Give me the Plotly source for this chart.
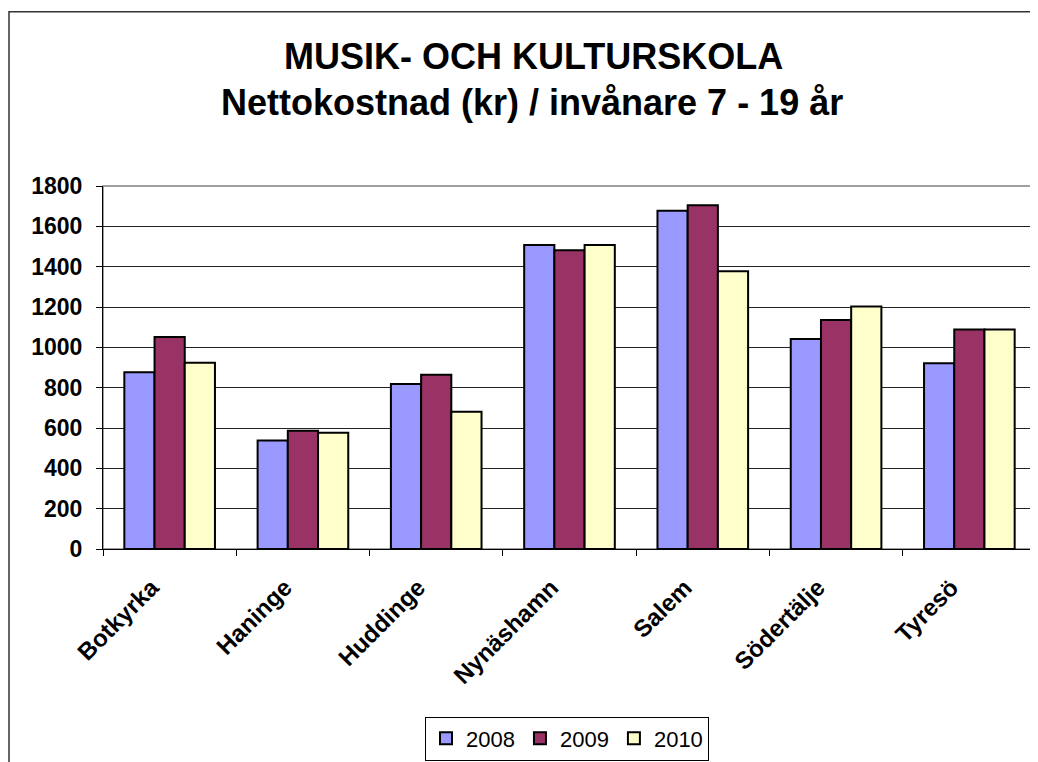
import plotly.graph_objects as go

categories = ["Botkyrka", "Haninge", "Huddinge", "Nynäshamn", "Salem", "Södertälje", "Tyresö"]
years = ["2008", "2009", "2010"]
values_2008 = [876, 538, 818, 1507, 1677, 1041, 921]
values_2009 = [1051, 586, 864, 1481, 1705, 1135, 1089]
values_2010 = [923, 576, 680, 1507, 1377, 1203, 1089]
colors = ["#9999FF", "#993366", "#FFFFCC"]
y_ticks = [0, 200, 400, 600, 800, 1000, 1200, 1400, 1600, 1800]

FONT = "Liberation Sans, Arial, sans-serif"
OFF = 8  # page body margin
W, H = 1030, 754
L, R, T, B = 95, 2, 178, 211.3
PH = H - T - B

def py(ypix):
    return (H - B - (ypix - OFF)) / PH

def px(xpix):
    return (xpix - OFF - L) / (W - L - R)

fig = go.Figure()
for name, vals, col in zip(years, [values_2008, values_2009, values_2010], colors):
    fig.add_trace(go.Bar(
        name=name, x=categories, y=vals,
        marker=dict(color=col, line=dict(color="black", width=2)),
    ))

fig.update_layout(
    width=W, height=H,
    margin=dict(l=L, r=R, t=T, b=B, pad=0),
    paper_bgcolor="white", plot_bgcolor="white",
    barmode="group", bargap=0.32, bargroupgap=0,
    font=dict(family=FONT, color="black"),
    showlegend=True,
    legend=dict(
        orientation="h", x=px(567), xanchor="center", y=py(719), yanchor="top",
        bordercolor="black", borderwidth=1, font=dict(size=22, family=FONT),
        bgcolor="white", traceorder="normal", itemwidth=30,
    ),
    xaxis=dict(
        type="category", tickangle=-45, showgrid=False,
        ticks="outside", tickson="boundaries", ticklen=6, tickcolor="black",
        showline=True, linecolor="black", linewidth=1,
        tickfont=dict(size=24, family=FONT, weight="bold"),
        ticklabelshift=-18, ticklabelstandoff=14,
    ),
    yaxis=dict(
        range=[0, 1800], tickvals=y_ticks, showgrid=True, gridcolor="#222222", gridwidth=1,
        ticks="outside", ticklen=6, tickcolor="black",
        showline=True, linecolor="black", linewidth=1, zeroline=False,
        tickfont=dict(size=23, family=FONT, weight="bold"),
        ticklabelstandoff=9,
    ),
)

# plot area border (gray, top and right)
fig.add_shape(type="rect", xref="paper", yref="paper", x0=0, x1=1, y0=0, y1=1,
              line=dict(color="#808080", width=1.5), layer="below")
# outer chart border (extends beyond the frame on the right and bottom)
fig.add_shape(type="rect", xref="paper", yref="paper",
              x0=px(9), x1=px(1080), y0=py(800), y1=py(11),
              line=dict(color="#333333", width=1.5))

fig.add_annotation(text="<b>MUSIK- OCH KULTURSKOLA</b>", xref="paper", yref="paper",
                   x=px(533), y=py(56), xanchor="center", yanchor="middle",
                   showarrow=False, font=dict(size=36, family=FONT, color="black"))
fig.add_annotation(text="<b>Nettokostnad (kr) / invånare 7 - 19 år</b>", xref="paper", yref="paper",
                   x=px(532), y=py(102), xanchor="center", yanchor="middle",
                   showarrow=False, font=dict(size=36, family=FONT, color="black"))

fig.write_html("out.html")
